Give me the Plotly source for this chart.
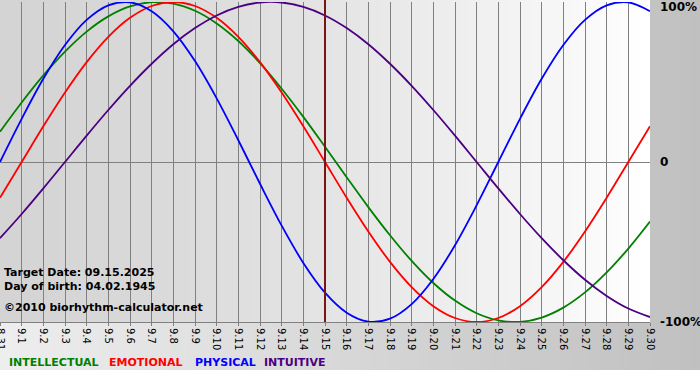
import plotly.graph_objects as go

days = ["8.31", "9.1", "9.2", "9.3", "9.4", "9.5", "9.6", "9.7", "9.8", "9.9", "9.10",
        "9.11", "9.12", "9.13", "9.14", "9.15", "9.16", "9.17", "9.18", "9.19", "9.20",
        "9.21", "9.22", "9.23", "9.24", "9.25", "9.26", "9.27", "9.28", "9.29", "9.30"]

intellectual = [0.189, 0.372, 0.541, 0.690, 0.815, 0.910, 0.972, 0.999, 0.990, 0.945, 0.866,
                0.756, 0.618, 0.458, 0.282, 0.095, -0.095, -0.282, -0.458, -0.618, -0.756,
                -0.866, -0.945, -0.990, -0.999, -0.972, -0.910, -0.815, -0.690, -0.541, -0.372]
emotional = [-0.223, 0.0, 0.223, 0.434, 0.624, 0.782, 0.901, 0.975, 1.0, 0.975, 0.901,
             0.782, 0.624, 0.434, 0.223, 0.0, -0.223, -0.434, -0.624, -0.782, -0.901,
             -0.975, -1.0, -0.975, -0.901, -0.782, -0.624, -0.434, -0.223, 0.0, 0.223]
physical = [0.0, 0.270, 0.520, 0.731, 0.888, 0.979, 0.998, 0.942, 0.817, 0.631, 0.398,
            0.136, -0.136, -0.398, -0.631, -0.817, -0.942, -0.998, -0.979, -0.888, -0.731,
            -0.520, -0.270, 0.0, 0.270, 0.520, 0.731, 0.888, 0.979, 0.998, 0.942]
intuitive = [-0.476, -0.325, -0.165, 0.0, 0.165, 0.325, 0.476, 0.614, 0.736, 0.837, 0.916,
             0.969, 0.997, 0.997, 0.969, 0.916, 0.837, 0.736, 0.614, 0.476, 0.325,
             0.165, 0.0, -0.165, -0.325, -0.476, -0.614, -0.736, -0.837, -0.916, -0.969]

series_names = ["INTELLECTUAL", "EMOTIONAL", "PHYSICAL", "INTUITIVE"]
series_colors = ["#008000", "#ff0000", "#0000ff", "#4b0082"]
target_day = "9.15"
info_lines = ["Target Date: 09.15.2025", "Day of birth: 04.02.1945", "©2010 biorhythm-calculator.net"]
y_labels = ["100%", "0", "-100%"]
y_label_vals = [1, 0, -1]

W, H = 700, 380
ML, MR, MT, MB = 0, 50, 2, 58
PW, PH = W - ML - MR, H - MT - MB


def px(x):
    return (x - ML) / PW


def py(y):
    return (H - MB - y) / PH


fig = go.Figure()
for name, vals, col in zip(series_names, [intellectual, emotional, physical, intuitive], series_colors):
    fig.add_trace(go.Scatter(x=days, y=vals, mode="lines", name=name,
                             line=dict(color=col, width=1.8, shape="spline", smoothing=1.0),
                             hoverinfo="skip", cliponaxis=False))

shapes = []
# outer background gradient
N = 70
for i in range(N):
    x0 = i * W / N
    x1 = (i + 1) * W / N + 0.6
    c = int(round(238 - 46 * ((x0 + x1) / 2) / W))
    shapes.append(dict(type="rect", xref="paper", yref="paper", layer="below",
                       x0=px(x0), x1=px(x1), y0=py(370), y1=py(0),
                       fillcolor=f"rgb({c},{c},{c})", line=dict(width=0)))
# plot-area gradient
N2 = 65
for i in range(N2):
    x0 = i * PW / N2
    x1 = (i + 1) * PW / N2 + (0.6 if i < N2 - 1 else 0)
    t = ((x0 + x1) / 2) / PW
    c = int(round(212 + 43 * t ** 1.4))
    shapes.append(dict(type="rect", xref="paper", yref="paper", layer="below",
                       x0=px(x0), x1=px(x1), y0=0, y1=py(0),
                       fillcolor=f"rgb({c},{c},{c})", line=dict(width=0)))
# target day marker
target_idx = days.index(target_day)
shapes.append(dict(type="line", xref="x", yref="paper", layer="above",
                   x0=target_idx, x1=target_idx, y0=0, y1=py(0),
                   line=dict(color="#7a1414", width=2)))

annotations = []
for txt, yy in zip(info_lines, [272.5, 286.5, 307]):
    annotations.append(dict(text=f"<b>{txt}</b>", xref="paper", yref="paper", x=px(2), y=py(yy),
                            xanchor="left", yanchor="middle", showarrow=False,
                            font=dict(size=11, color="#000000", family="DejaVu Sans")))
for lab, v in zip(y_labels, y_label_vals):
    ypix = {1: 7, 0: 162, -1: 322}[v]
    annotations.append(dict(text=f"<b>{lab}</b>", xref="paper", yref="paper", x=px(658), y=py(ypix),
                            xanchor="left", yanchor="middle", showarrow=False,
                            font=dict(size=12, color="#000000", family="DejaVu Sans")))
for name, col, xx in zip(series_names, series_colors, [7, 107, 193, 262]):
    annotations.append(dict(text=f"<b>{name}</b>", xref="paper", yref="paper", x=px(xx), y=py(362),
                            xanchor="left", yanchor="middle", showarrow=False,
                            font=dict(size=11, color=col, family="DejaVu Sans")))

fig.update_layout(
    width=W, height=H,
    margin=dict(l=ML, r=MR, t=MT, b=MB, autoexpand=False),
    paper_bgcolor="#ffffff", plot_bgcolor="rgba(0,0,0,0)",
    showlegend=False,
    font=dict(family="DejaVu Sans", color="#000000"),
    shapes=shapes, annotations=annotations,
    xaxis=dict(type="category", categoryorder="array", categoryarray=days,
               range=[0, len(days) - 1], showgrid=True, gridcolor="#808080", gridwidth=1,
               ticks="outside", ticklen=3, tickcolor="#808080", tickangle=90,
               tickfont=dict(size=10, color="#000000"), showline=True, linecolor="#808080",
               linewidth=1, zeroline=False, fixedrange=True, automargin=False),
    yaxis=dict(range=[-1, 1], showgrid=False, zeroline=True, zerolinecolor="#808080",
               zerolinewidth=1, showticklabels=False, ticks="", fixedrange=True, automargin=False),
)

fig.write_html("out.html", config={"displayModeBar": False},
               post_script="document.body.style.margin='0';document.body.style.padding='0';")
